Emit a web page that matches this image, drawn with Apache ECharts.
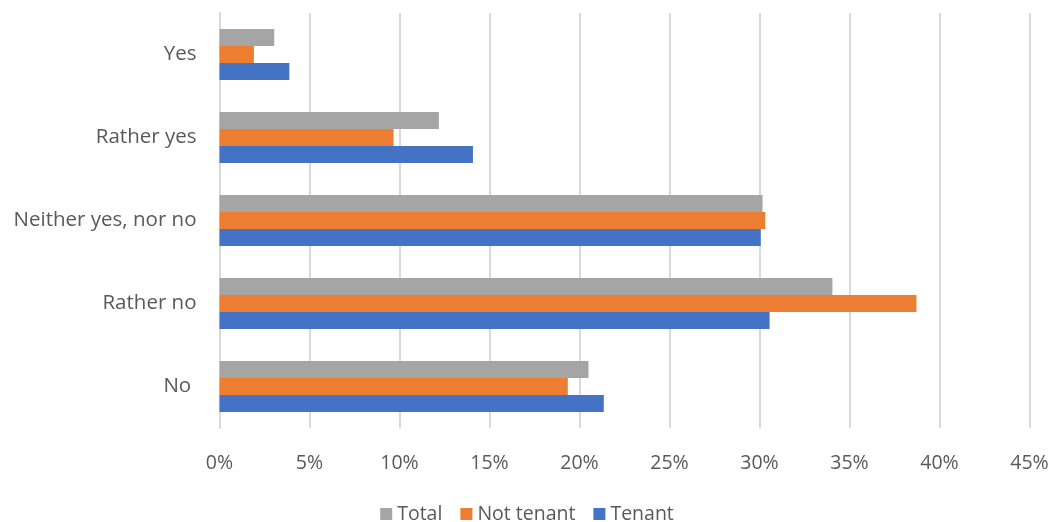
<!DOCTYPE html>
<html>
<head>
<meta charset="utf-8">
<script src="https://cdn.jsdelivr.net/npm/echarts@6/dist/echarts.min.js"></script>
<style>
  html, body { margin: 0; padding: 0; background: #fff; }
  #chart { width: 1054px; height: 522px; }
</style>
</head>
<body>
<div id="chart"></div>
<script>
// categories, bottom to top
var categories = ['No ', 'Rather no', 'Neither yes, nor no', 'Rather yes', 'Yes'];
var seriesNames = ['Total', 'Not tenant', 'Tenant'];

// percent values, same order as categories
var totalValues     = [20.5, 34.05, 30.17, 12.19, 3.04];
var notTenantValues = [19.35, 38.72, 30.32, 9.67, 1.91];
var tenantValues    = [21.35, 30.56, 30.07, 14.08, 3.88];

var colors = ['#A5A5A5', '#ED7D31', '#4472C4'];
var FONT = 'Open Sans';

var chart = echarts.init(document.getElementById('chart'));

function makeSeries(name, data, color) {
    return {
        name: name,
        type: 'bar',
        data: data,
        barWidth: 17,
        barGap: '0%',
        itemStyle: { color: color },
        emphasis: { disabled: true }
    };
}

var option = {
    animation: false,
    textStyle: { fontFamily: FONT },
    grid: { left: 219.5, right: 24.5, top: 13, height: 415, containLabel: false },
    legend: {
        data: seriesNames,
        top: 499,
        left: 'center',
        itemWidth: 12,
        itemHeight: 12,
        itemGap: 18,
        icon: 'rect',
        textStyle: { fontFamily: FONT, fontSize: 19.5, color: '#595959' }
    },
    xAxis: {
        type: 'value',
        min: 0,
        max: 45,
        interval: 5,
        axisLine: { show: false },
        axisTick: { show: false },
        splitLine: { lineStyle: { color: '#D9D9D9', width: 2 } },
        axisLabel: {
            formatter: '{value}%',
            margin: 25,
            fontSize: 19.5,
            color: '#595959',
            fontFamily: FONT
        }
    },
    yAxis: {
        type: 'category',
        data: categories,
        axisLine: { show: true, lineStyle: { color: '#D9D9D9', width: 2 } },
        axisTick: { show: false },
        axisLabel: {
            margin: 23,
            fontSize: 20.5,
            color: '#595959',
            fontFamily: FONT
        }
    },
    series: [
        makeSeries(seriesNames[0], totalValues, colors[0]),
        makeSeries(seriesNames[1], notTenantValues, colors[1]),
        makeSeries(seriesNames[2], tenantValues, colors[2])
    ]
};

chart.setOption(option);
</script>
</body>
</html>
